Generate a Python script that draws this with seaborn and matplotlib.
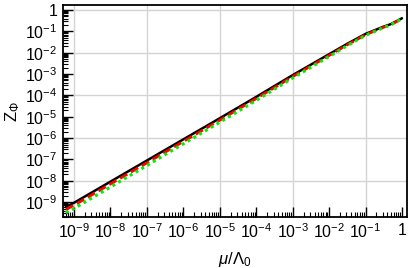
import numpy as np
import pandas as pd
import matplotlib
matplotlib.use("Agg")
import matplotlib.pyplot as plt
import matplotlib.ticker as mticker
import seaborn as sns

# scale mu/Lambda_0 and Z_Phi for the three curves
mu = [6e-10, 1e-9, 1e-8, 1e-7, 1e-6, 1e-5, 1e-4, 1e-3, 1e-2, 3e-2, 1e-1, 3e-1, 5e-1, 1.0]
z_black = [6.0e-10, 9.3e-10, 9.1e-9, 8.9e-8, 8.7e-7, 8.5e-6, 8.5e-5, 8.9e-4, 8.5e-3, 2.5e-2, 7.6e-2, 1.62e-1, 2.2e-1, 4.1e-1]
z_red = [4.6e-10, 7.1e-10, 7.1e-9, 6.9e-8, 6.9e-7, 6.9e-6, 7.1e-5, 7.6e-4, 7.4e-3, 2.24e-2, 6.9e-2, 1.51e-1, 2.09e-1, 3.9e-1]
z_green = [3.2e-10, 5.0e-10, 5.1e-9, 5.2e-8, 5.4e-7, 5.5e-6, 5.8e-5, 6.5e-4, 6.6e-3, 2.04e-2, 6.5e-2, 1.45e-1, 2.04e-1, 3.9e-1]

x_ticks = [1e-9, 1e-8, 1e-7, 1e-6, 1e-5, 1e-4, 1e-3, 1e-2, 1e-1, 1.0]
y_ticks = [1e-9, 1e-8, 1e-7, 1e-6, 1e-5, 1e-4, 1e-3, 1e-2, 1e-1, 1.0]
grid_x = [1e-9, 1e-7, 1e-5, 1e-3, 1e-1]
grid_y = [1e-8, 1e-6, 1e-4, 1e-2, 1.0]

df = pd.DataFrame({"mu": mu, "black": z_black, "red": z_red, "green": z_green})

sns.set_style("ticks", {"axes.edgecolor": "black", "xtick.color": "black", "ytick.color": "black",
                        "text.color": "black", "axes.labelcolor": "black"})
plt.rcParams["font.family"] = ["Liberation Sans", "DejaVu Sans"]
plt.rcParams["mathtext.fontset"] = "custom"
plt.rcParams["mathtext.rm"] = "Liberation Sans"
plt.rcParams["mathtext.it"] = "Liberation Sans:italic"

fig = plt.figure(figsize=(4.09, 2.68), dpi=100)
ax = fig.add_axes([0.154, 0.19, 0.841, 0.791])

for g in grid_x:
    ax.axvline(g, color="#d4d4d4", lw=1.0, zorder=0)
for g in grid_y:
    ax.axhline(g, color="#d4d4d4", lw=1.0, zorder=0)

sns.lineplot(data=df, x="mu", y="black", color="black", lw=1.8, ax=ax)
sns.lineplot(data=df, x="mu", y="red", color="red", lw=2.0, ax=ax, linestyle=(0, (3, 1.5)))
sns.lineplot(data=df, x="mu", y="green", color="#00ee00", lw=2.2, ax=ax, linestyle=(0, (1, 1.2)))

ax.set_xscale("log")
ax.set_yscale("log")
ax.set_xlim(5e-10, 1.37)
ax.set_ylim(2e-10, 1.7)

fmt = mticker.FuncFormatter(lambda v, p: "1" if abs(v - 1) < 1e-9 else r"$\mathdefault{10^{%d}}$" % round(np.log10(v)))
ax.xaxis.set_major_locator(mticker.FixedLocator(x_ticks))
ax.yaxis.set_major_locator(mticker.FixedLocator(y_ticks))
for axis in (ax.xaxis, ax.yaxis):
    axis.set_minor_locator(mticker.LogLocator(base=10, subs=np.arange(2, 10), numticks=30))
    axis.set_major_formatter(fmt)
    axis.set_minor_formatter(mticker.NullFormatter())

ax.tick_params(which="major", direction="in", length=7, width=1, labelsize=11.5, pad=4)
ax.tick_params(which="minor", direction="in", length=3.5, width=0.8)
for s in ax.spines.values():
    s.set_linewidth(1.3)

ax.set_xlabel(r"$\mathit{\mu/\Lambda_0}$", fontsize=12, labelpad=6)
ax.set_ylabel(r"Z$_{\mathit{\Phi}}$", fontsize=12, labelpad=2)

fig.savefig("out.png", dpi=100)
